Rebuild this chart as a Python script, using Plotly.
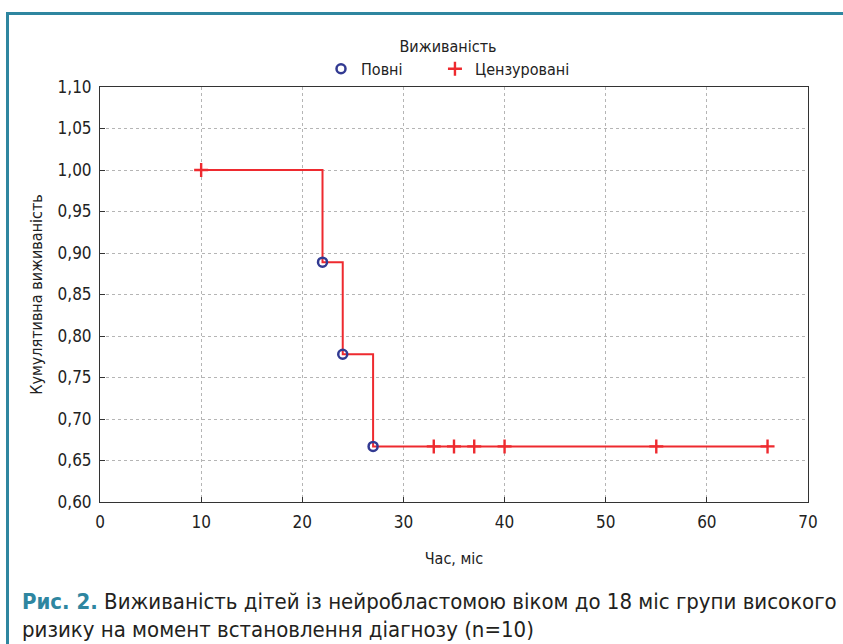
import plotly.graph_objects as go

# Data
step_times = [10, 22, 24, 27, 66]
step_surv = [1.0, 0.889, 0.778, 0.667, 0.667]
event_times = [22, 24, 27]
event_surv = [0.889, 0.778, 0.667]
censored_times = [10, 33, 35, 37, 40, 55, 66]
censored_surv = [1.0, 0.667, 0.667, 0.667, 0.667, 0.667, 0.667]
x_ticks = [0, 10, 20, 30, 40, 50, 60, 70]
y_ticks = [0.60, 0.65, 0.70, 0.75, 0.80, 0.85, 0.90, 0.95, 1.00, 1.05, 1.10]

FONT = "DejaVu Sans Condensed, Liberation Sans Narrow, Roboto, sans-serif"
RED = "#ee2a2f"
BLUE = "#323a92"
TEAL = "#2e86a0"
NB = "\u00a0"

fig = go.Figure()
fig.add_trace(go.Scatter(x=step_times, y=step_surv, mode="lines", line_shape="hv",
                         line=dict(color=RED, width=2), showlegend=False, hoverinfo="skip"))
fig.add_trace(go.Scatter(x=event_times, y=event_surv, mode="markers", name="Повні" + NB * 6,
                         marker=dict(symbol="circle-open", size=9, color=BLUE,
                                     line=dict(width=2.5, color=BLUE))))
fig.add_trace(go.Scatter(x=censored_times, y=censored_surv, mode="markers", name="Цензуровані",
                         marker=dict(symbol="cross-thin-open", size=10, color=RED,
                                     line=dict(width=2.4, color=RED))))

L, R, T, B = 100, 35, 87, 142
W, H = 843, 644
pw, ph = W - L - R, H - T - B

def px(x):
    return (x - L) / pw

def py(y):
    return (H - B - y) / ph

grid = dict(showgrid=True, gridcolor="#b5b5b5", griddash="3px,3px", gridwidth=1.2)
fig.update_xaxes(range=[0, 70], tickvals=x_ticks, ticks="inside", ticklen=5, tickcolor="#333",
                 showline=True, linecolor="#333", linewidth=1, mirror=True, zeroline=False,
                 ticklabelstandoff=5,
                 title=dict(text="Час, міс", font=dict(size=16, color="#222"), standoff=21),
                 tickfont=dict(size=17, color="#222"), **grid)
fig.update_yaxes(range=[0.60, 1.10], tickvals=y_ticks, tickformat=".2f", ticks="inside", ticklen=5,
                 tickcolor="#333", showline=True, linecolor="#333", linewidth=1, mirror=True,
                 zeroline=False, ticklabelstandoff=4,
                 title=dict(text="Кумулятивна виживаність", font=dict(size=16, color="#222"), standoff=10),
                 tickfont=dict(size=17, color="#222"), **grid)

fig.update_layout(
    width=W, height=H, margin=dict(l=L, r=R, t=T, b=B),
    paper_bgcolor="white", plot_bgcolor="white",
    separators=",.",
    font=dict(family=FONT, color="#222"),
    legend=dict(orientation="h", x=px(448), xanchor="center", y=py(31), yanchor="top",
                title=dict(text="Виживаність", side="top center", font=dict(size=16)),
                font=dict(size=16), itemwidth=30, tracegroupgap=0,
                bgcolor="rgba(0,0,0,0)"),
    shapes=[
        dict(type="line", xref="paper", yref="paper", x0=px(7.5), x1=px(7.5), y0=py(12), y1=py(660),
             line=dict(color=TEAL, width=3)),
        dict(type="line", xref="paper", yref="paper", x0=px(6), x1=px(860), y0=py(13.5), y1=py(13.5),
             line=dict(color=TEAL, width=3)),
    ],
    annotations=[
        dict(xref="paper", yref="paper", x=px(20), y=py(601), xanchor="left", yanchor="middle",
             showarrow=False, align="left",
             text="<b><span style='color:%s'>Рис. 2.</span></b> Виживаність дітей із нейробластомою віком до 18 міс групи високого" % TEAL,
             font=dict(size=22, color="#231f20", family=FONT)),
        dict(xref="paper", yref="paper", x=px(20), y=py(629), xanchor="left", yanchor="middle",
             showarrow=False, align="left",
             text="ризику на момент встановлення діагнозу (n=10)",
             font=dict(size=22, color="#231f20", family=FONT)),
    ],
)

fig.write_html("out.html", config={"displayModeBar": False},
               post_script="document.body.style.margin='0px';")
